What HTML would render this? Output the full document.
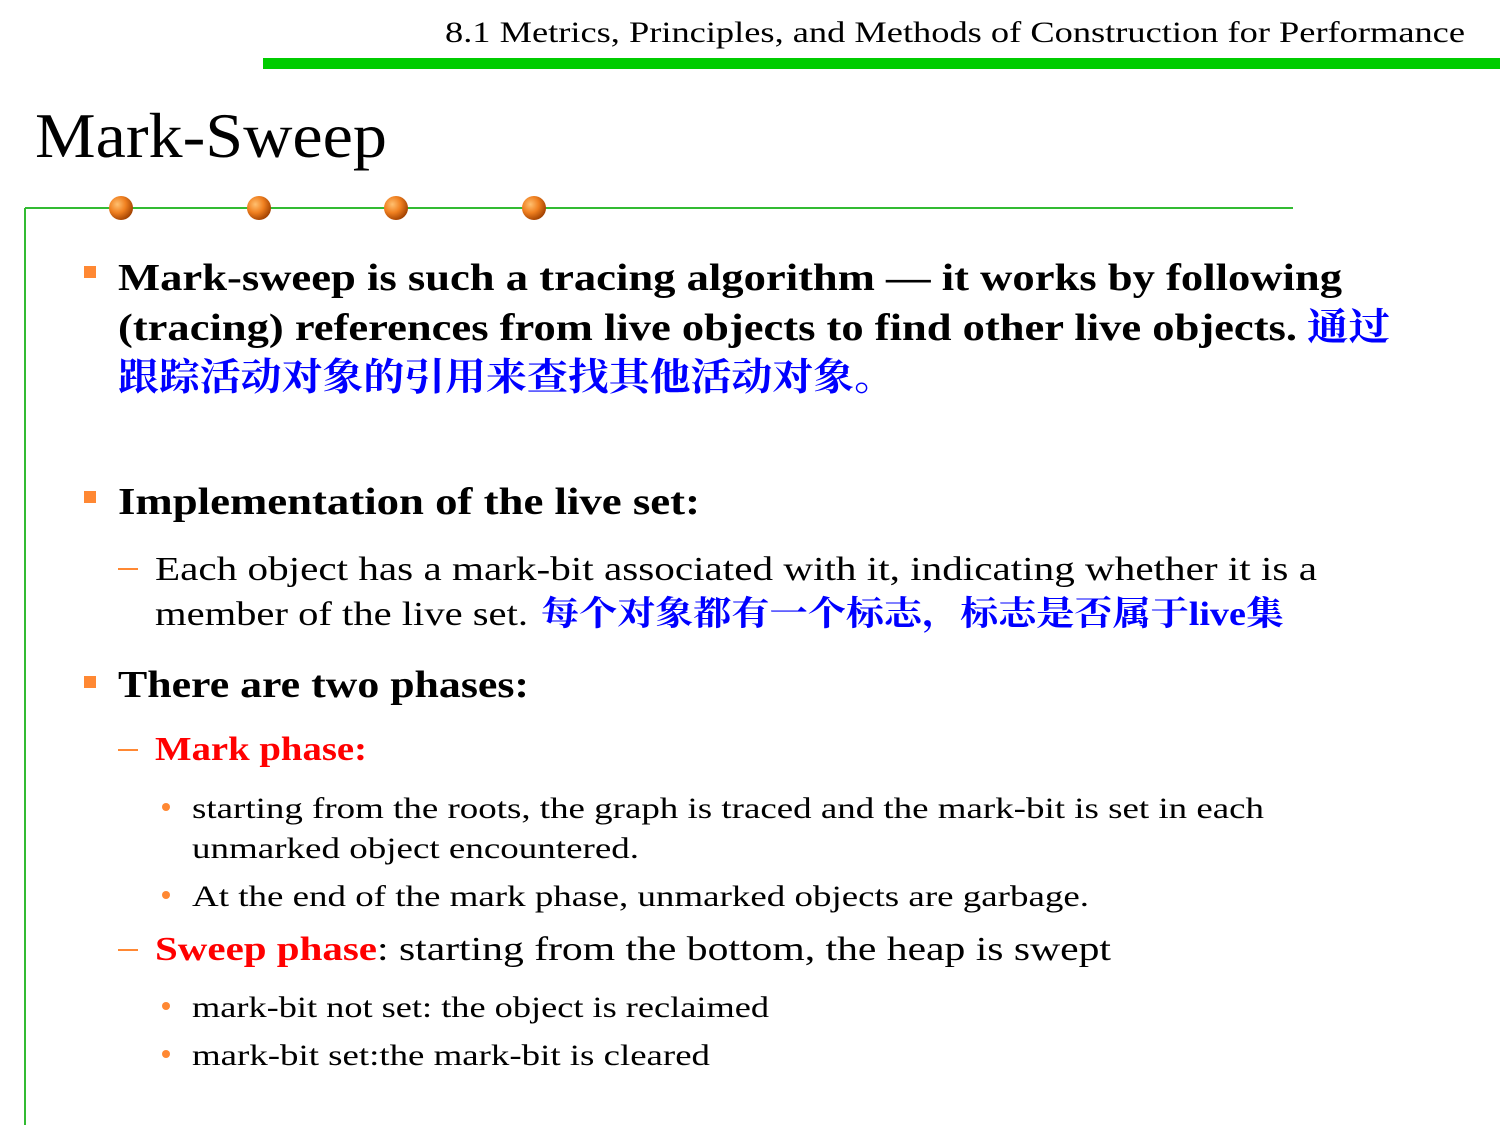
<!DOCTYPE html>
<html><head><meta charset="utf-8"><style>
html,body{margin:0;padding:0;background:#fff;}
svg{display:block;}
text{font-family:"Liberation Serif","Noto Serif CJK SC",serif;}
.b{font-weight:bold;}
.cn{font-family:"Liberation Serif","Noto Serif CJK SC","Noto Sans CJK SC",serif;font-weight:bold;fill:#0000ff;}
</style></head><body>
<svg width="1500" height="1125" viewBox="0 0 1500 1125">
<defs>
<radialGradient id="og" cx="0.35" cy="0.35" r="0.7">
<stop offset="0" stop-color="#ffc070"/><stop offset="0.5" stop-color="#f08020"/><stop offset="1" stop-color="#a04000"/>
</radialGradient>
</defs>
<text x="445" y="42" font-size="30" textLength="1020" lengthAdjust="spacingAndGlyphs">8.1 Metrics, Principles, and Methods of Construction for Performance</text>
<rect x="263" y="58" width="1237" height="11" fill="#00cc00"/>
<text x="35" y="157" font-size="64" textLength="352" lengthAdjust="spacingAndGlyphs">Mark-Sweep</text>
<line x1="25" y1="208" x2="1293" y2="208" stroke="#33bb33" stroke-width="2"/>
<line x1="25" y1="208" x2="25" y2="1125" stroke="#33bb33" stroke-width="2"/>
<g>
<circle cx="121" cy="208" r="12" fill="url(#og)"/><circle cx="259" cy="208" r="12" fill="url(#og)"/>
<circle cx="396" cy="208" r="12" fill="url(#og)"/><circle cx="534" cy="208" r="12" fill="url(#og)"/>
</g>
<g fill="#ff8833">
<rect x="84" y="266" width="12" height="12"/><rect x="84" y="491" width="12" height="12"/><rect x="84" y="676" width="12" height="12"/>
</g>
<text class="b" x="118" y="290" font-size="38" textLength="1224" lengthAdjust="spacingAndGlyphs">Mark-sweep is such a tracing algorithm — it works by following</text>
<text class="b" x="118" y="340" font-size="38" textLength="1179" lengthAdjust="spacingAndGlyphs">(tracing) references from live objects to find other live objects.</text>
<text class="cn" x="1307" y="340" font-size="38" textLength="83" lengthAdjust="spacingAndGlyphs">通过</text>
<text class="cn" x="118" y="390" font-size="38" textLength="777" lengthAdjust="spacingAndGlyphs">跟踪活动对象的引用来查找其他活动对象。</text>
<text class="b" x="118" y="514" font-size="38" textLength="582" lengthAdjust="spacingAndGlyphs">Implementation of the live set:</text>
<line x1="118" y1="569" x2="138" y2="569" stroke="#ff8833" stroke-width="2"/>
<text x="155" y="580" font-size="34" textLength="1162" lengthAdjust="spacingAndGlyphs">Each object has a mark-bit associated with it, indicating whether it is a</text>
<text x="155" y="625" font-size="34" textLength="373" lengthAdjust="spacingAndGlyphs">member of the live set.</text>
<text class="cn" x="541" y="625" font-size="34" textLength="743" lengthAdjust="spacingAndGlyphs">每个对象都有一个标志，标志是否属于live集</text>
<text class="b" x="118" y="697" font-size="38" textLength="411" lengthAdjust="spacingAndGlyphs">There are two phases:</text>
<line x1="118" y1="750" x2="138" y2="750" stroke="#ff8833" stroke-width="2"/>
<text class="b" fill="#ff0000" x="155" y="760" font-size="34" textLength="212" lengthAdjust="spacingAndGlyphs">Mark phase:</text>
<g fill="#ff8833">
<circle cx="166" cy="807" r="4"/><circle cx="166" cy="895" r="4"/><circle cx="166" cy="1006" r="4"/><circle cx="166" cy="1054" r="4"/>
</g>
<text x="192" y="818" font-size="30" textLength="1072" lengthAdjust="spacingAndGlyphs">starting from the roots, the graph is traced and the mark-bit is set in each</text>
<text x="192" y="858" font-size="30" textLength="447" lengthAdjust="spacingAndGlyphs">unmarked object encountered.</text>
<text x="192" y="906" font-size="30" textLength="897" lengthAdjust="spacingAndGlyphs">At the end of the mark phase, unmarked objects are garbage.</text>
<line x1="118" y1="950" x2="138" y2="950" stroke="#ff8833" stroke-width="2"/>
<text class="b" fill="#ff0000" x="155" y="960" font-size="34" textLength="222" lengthAdjust="spacingAndGlyphs">Sweep phase</text>
<text x="377" y="960" font-size="34" textLength="734" lengthAdjust="spacingAndGlyphs">: starting from the bottom, the heap is swept</text>
<text x="192" y="1017" font-size="30" textLength="577" lengthAdjust="spacingAndGlyphs">mark-bit not set: the object is reclaimed</text>
<text x="192" y="1065" font-size="30" textLength="518" lengthAdjust="spacingAndGlyphs">mark-bit set:the mark-bit is cleared</text>
</svg>
</body></html>
